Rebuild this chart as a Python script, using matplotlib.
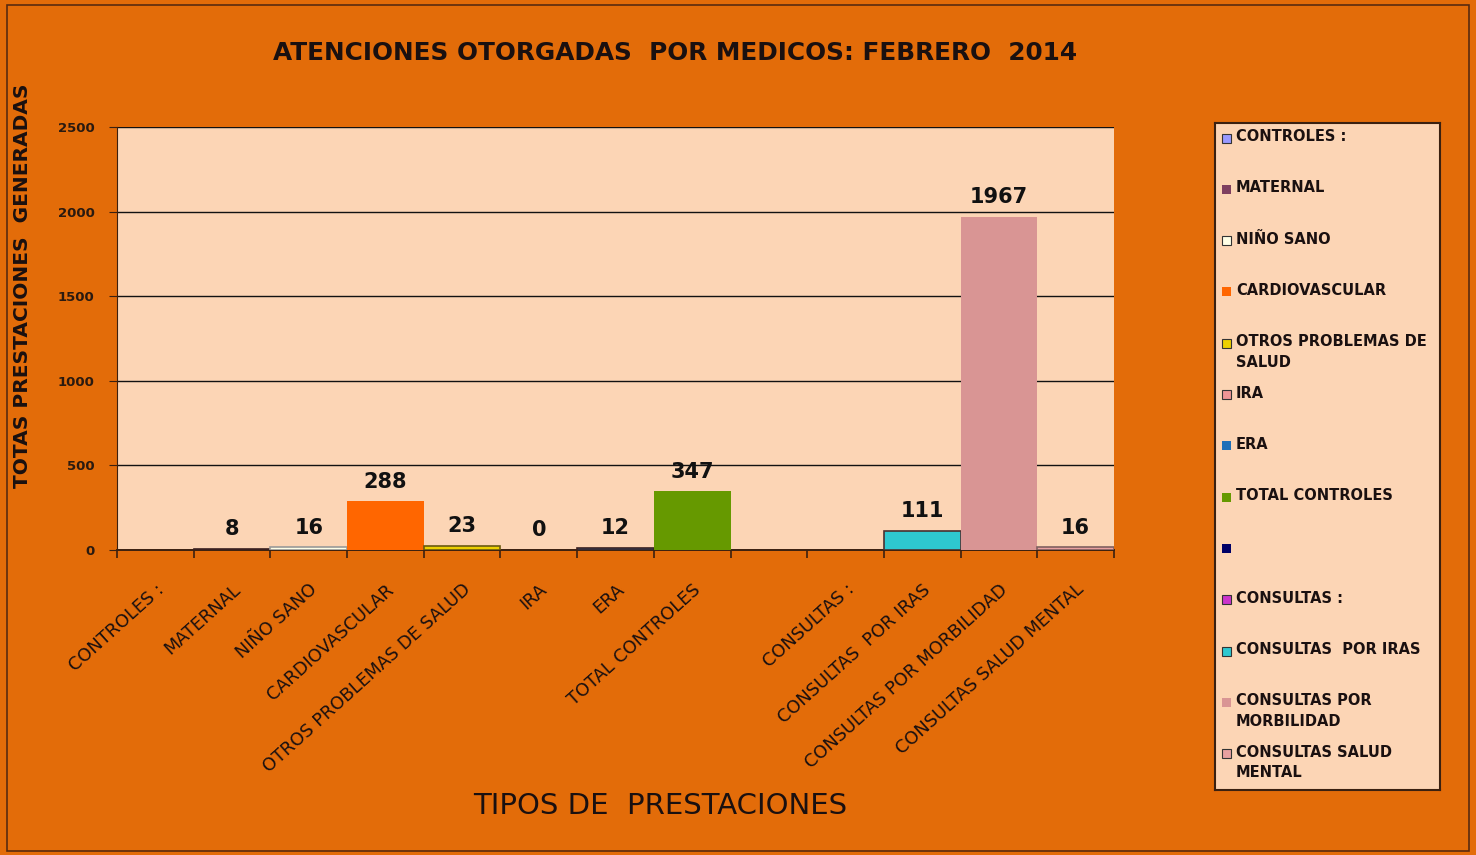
import matplotlib.pyplot as plt
import matplotlib.patches as mpatches

# data
categories = ['CONTROLES :', 'MATERNAL', 'NIÑO SANO', 'CARDIOVASCULAR',
              'OTROS PROBLEMAS DE SALUD', 'IRA', 'ERA', 'TOTAL CONTROLES', '',
              'CONSULTAS :', 'CONSULTAS  POR IRAS', 'CONSULTAS POR MORBILIDAD',
              'CONSULTAS SALUD MENTAL']
values = [None, 8, 16, 288, 23, 0, 12, 347, None, None, 111, 1967, 16]
legend_labels = ['CONTROLES :', 'MATERNAL', 'NIÑO SANO', 'CARDIOVASCULAR',
                 'OTROS PROBLEMAS DE\nSALUD', 'IRA', 'ERA', 'TOTAL CONTROLES', '',
                 'CONSULTAS :', 'CONSULTAS  POR IRAS', 'CONSULTAS POR\nMORBILIDAD',
                 'CONSULTAS SALUD\nMENTAL']

colors = ['#9999FF', '#7F3F5F', '#FFFFE6', '#FF6600', '#EDD000', '#F09595',
          '#1F6FB8', '#669900', '#000066', '#CC33CC', '#2EC8D0', '#D99594', '#E8A0A0']
bar_edges = ['none', '#3A2020', '#999999', 'none', '#6B5A10', 'none',
             '#3A2020', 'none', 'none', 'none', '#4A3030', 'none', '#806060']
leg_edges = ['#333333', 'none', '#333333', 'none', '#333333', '#333333',
             'none', 'none', 'none', '#333333', '#333333', 'none', '#333333']

ORANGE = '#E36C09'
PEACH = '#FCD5B5'

W, H = 1476, 855
fig = plt.figure(figsize=(W / 100, H / 100), dpi=100, facecolor=ORANGE)

# outer frame
fig.patches.append(mpatches.Rectangle((7 / W, 4 / H), 1462 / W, 846 / H,
                                      transform=fig.transFigure, fill=False,
                                      edgecolor='#5A2A10', lw=1.2))

ax = fig.add_axes([117 / W, 1 - 550 / H, (1114 - 117) / W, (550 - 127) / H])
ax.set_facecolor(PEACH)

xs = list(range(len(categories)))
for x, v, c, e in zip(xs, values, colors, bar_edges):
    if v is None:
        continue
    ax.bar(x, v, width=1.0, color=c, edgecolor=e, linewidth=1.2, zorder=3)
    ax.annotate(str(v), (x, v), xytext=(0, 7), textcoords='offset points',
                ha='center', va='bottom', fontsize=15, fontweight='bold',
                color='#111111', zorder=4)

ax.set_xlim(-0.5, len(categories) - 0.5)
ax.set_ylim(0, 2500)
ax.set_yticks(range(0, 2501, 500))
ax.yaxis.grid(True, color='#111111', lw=1.0, zorder=1)
ax.set_axisbelow(True)
ax.tick_params(axis='y', labelsize=9.5, length=6, color='#3A2010', pad=10)
for lab in ax.get_yticklabels():
    lab.set_fontweight('bold')
    lab.set_color('#2A1A10')

ax.set_xticks(xs)
ax.set_xticklabels(categories, rotation=42, ha='right', rotation_mode='anchor',
                   fontsize=12.8, color='#1A1010')
ax.tick_params(axis='x', length=0, pad=22)
ax.set_xticks([x - 0.5 for x in range(len(categories) + 1)], minor=True)
ax.tick_params(axis='x', which='minor', length=6, color='#3A2010', width=1.2)

for s in ['top', 'right']:
    ax.spines[s].set_visible(False)
ax.spines['left'].set_color('#3A2010')
ax.spines['bottom'].set_color('#3A2010')
ax.spines['bottom'].set_linewidth(1.4)

ax.set_ylabel('TOTAS PRESTACIONES  GENERADAS', fontsize=14.5, fontweight='bold',
              color='#1A1010')
ax.yaxis.set_label_coords(-0.085, 0.624)
fig.text(660 / W, 1 - 806 / H, 'TIPOS DE  PRESTACIONES', fontsize=21,
         ha='center', va='center', color='#1A1010')
fig.text(675 / W, 1 - 53 / H, 'ATENCIONES OTORGADAS  POR MEDICOS: FEBRERO  2014',
         fontsize=17.8, fontweight='bold', ha='center', va='center', color='#1A1010')

# legend box
lx0, lx1, ly0, ly1 = 1215, 1440, 123, 790
lax = fig.add_axes([lx0 / W, 1 - ly1 / H, (lx1 - lx0) / W, (ly1 - ly0) / H])
lax.set_xlim(lx0, lx1)
lax.set_ylim(ly1, ly0)
lax.set_facecolor(PEACH)
lax.set_xticks([])
lax.set_yticks([])
for s in lax.spines.values():
    s.set_color('#3A2010')
    s.set_linewidth(1.5)
for i, (lab, c, e) in enumerate(zip(legend_labels, colors, leg_edges)):
    y = 138 + i * 51.3
    lax.add_patch(mpatches.Rectangle((1222, y - 4.5), 9, 9, facecolor=c,
                                     edgecolor=e, lw=0.8))
    lax.text(1236, y - 9, lab, fontsize=10.5, fontweight='bold', va='top',
             ha='left', color='#1A1010', linespacing=1.45)

plt.savefig('out.png', dpi=100, facecolor=ORANGE)
